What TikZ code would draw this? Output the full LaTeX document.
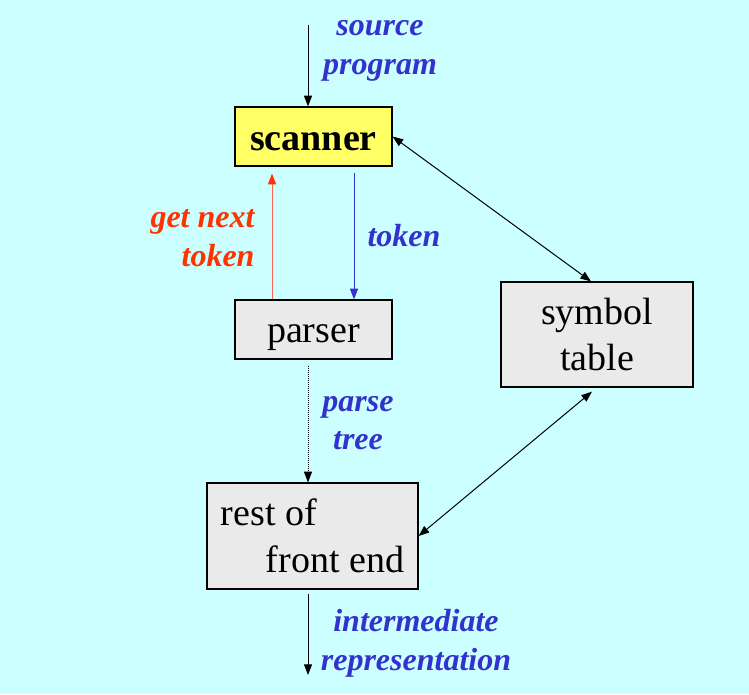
\documentclass[tikz,border=0pt]{standalone}
\usepackage{fontspec}
\setmainfont{Liberation Serif}
\usetikzlibrary{arrows.meta,calc}
\definecolor{bgcyan}{RGB}{204,255,255}
\definecolor{scanyellow}{RGB}{255,255,102}
\definecolor{boxgray}{RGB}{234,234,234}
\definecolor{lblblue}{RGB}{51,51,204}
\definecolor{getred}{RGB}{255,51,0}
\definecolor{getline}{RGB}{255,102,85}

\begin{document}
\begin{tikzpicture}[x=0.75pt, y=-0.75pt, line width=0.75pt,
  >={Triangle[length=8pt,width=6pt]},
  box/.style={draw=black, line width=0.9pt, fill=boxgray, inner sep=0pt,
    font=\fontsize{28.5}{35}\selectfont},
  lbl/.style={inner sep=0pt, align=center, text=lblblue,
    font=\fontsize{24}{29}\selectfont\bfseries\itshape}]
\fill[bgcyan] (0,0) rectangle (749,694);
\path[use as bounding box] (0,0) rectangle (749,694);
% boxes
\node[box, fill=scanyellow, minimum width=117.75pt, minimum height=44.25pt,
  text height=20.5pt, text depth=0pt,
  font=\fontsize{28.5}{35}\selectfont\bfseries] (scanner) at (313.5,136.5) {scanner};
\node[box, minimum width=117.75pt, minimum height=44.25pt,
  text height=19pt, text depth=0pt] (parser) at (313.5,329.5) {parser};
\node[box, minimum width=144pt, minimum height=78.75pt, align=center] (symtab) at (597,334.5) {symbol\\table};
\node[box, minimum width=158.25pt, minimum height=79.5pt, align=left] (rest) at (312.5,536)
  {rest of\\\hspace*{33.75pt}front end};
\coordinate (src) at (308,25);
\coordinate (out) at (308,675);
% connectors
\draw[->] (src) -- ($(scanner.north)+(-5.5,0)$);
\draw[-{Triangle[length=8pt,width=6pt,color=getred]}, getline]
  ($(parser.north)+(-41.5,0)$) -- ($(scanner.south)+(-41.5,7)$);
\draw[->, lblblue] ($(scanner.south)+(40.5,6)$) -- ($(parser.north)+(40.5,0)$);
\draw[->, densely dotted, line width=0.5pt] ($(parser.south)+(-5.5,6)$) -- ($(rest.north)+(-4.5,0)$);
\draw[<->] (scanner.east) -- ($(symtab.north)+(-6,0)$);
\draw[<->] ($(symtab.south)+(-5,4)$) -- (rest.east);
\draw[->] ($(rest.south)+(-4.5,4)$) -- (out);
% labels
\node[lbl] (srclbl) at (380,51) {source\\program};
\node[lbl, text=getred, align=right, anchor=east] (getlbl) at (255,238) {get next\\token};
\node[lbl] (toklbl) at (404,236) {token};
\node[lbl] (treelbl) at (358,423) {parse\\tree};
\node[lbl] (irlbl) at (416,643) {intermediate\\representation};
\end{tikzpicture}
\end{document}
